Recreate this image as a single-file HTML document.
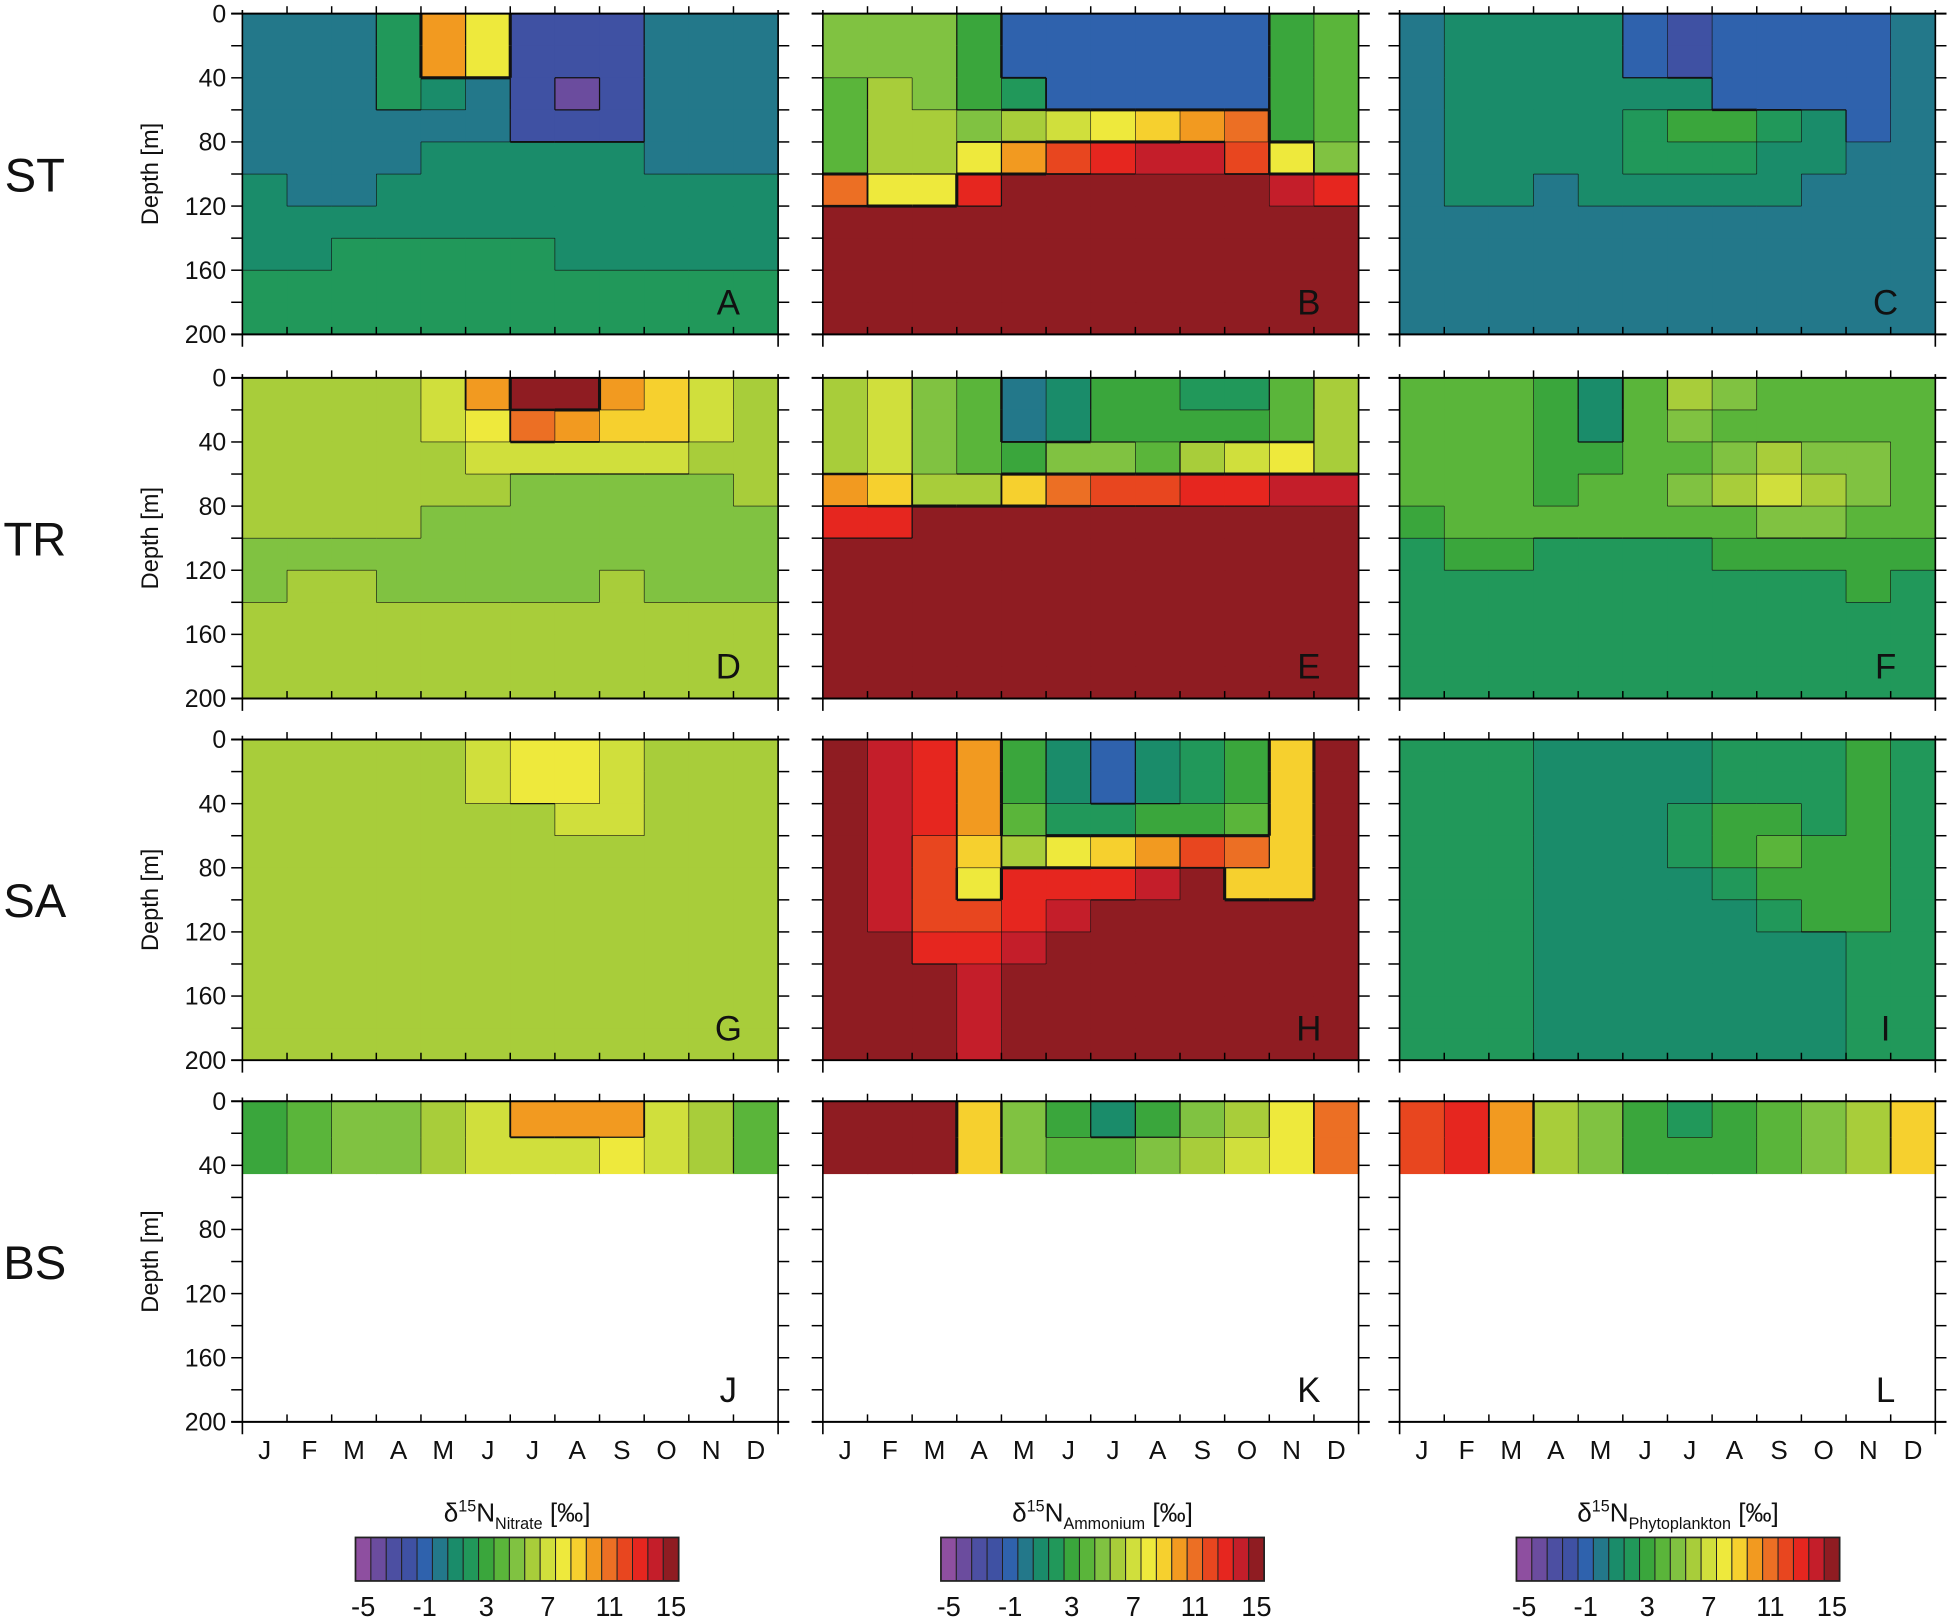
<!DOCTYPE html>
<html><head><meta charset="utf-8"><style>
html,body{margin:0;padding:0;background:#fff;}
svg{display:block;font-family:"Liberation Sans",Arial,sans-serif;}
</style></head><body>
<svg id="fig" xmlns="http://www.w3.org/2000/svg" width="1949" height="1617" viewBox="0 0 1568 1301" preserveAspectRatio="none"></svg>
<script>
// ---- data ----
const months = ["J","F","M","A","M","J","J","A","S","O","N","D"];
const depthTicks = [0,40,80,120,160,200];
const regionLabels = ["ST","TR","SA","BS"];
const panelLetters = ["A","B","C","D","E","F","G","H","I","J","K","L"];
const cbarTicks = [-5,-1,3,7,11,15];
const cbarTitles = ["Nitrate","Ammonium","Phytoplankton"];
const palette = ["#8e4fa0","#6b4c9e","#4c4fa2","#3f51a3","#2f62ad","#23788a","#1a8c6a","#21985a","#3aa63c","#5ab53a","#80c241","#a8cd3a","#d0df3c","#eee93c","#f6d02e","#f29a20","#ec6f24","#e8461f","#e6261f","#c41e2a","#8f1c22"];
const maxDepths = [200,200,200,200,200,200,200,200,200,45,45,45];
// grids: rows from surface to bottom, 12 monthly values each (per mil)
const gridA = [
[0,0,0,2,10,8,-2,-2,-2,0,0,0],[0,0,0,2,10,8,-2,-2,-2,0,0,0],[0,0,0,2,1,0,-2,-4,-2,0,0,0],
[0,0,0,0,0,0,-2,-2,-2,0,0,0],[0,0,0,0,1,1,1,1,1,0,0,0],[1,0,0,1,1,1,1,1,1,1,1,1],
[1,1,1,1,1,1,1,1,1,1,1,1],[1,1,2,2,2,2,2,1,1,1,1,1],[2,2,2,2,2,2,2,2,2,2,2,2],[2,2,2,2,2,2,2,2,2,2,2,2]];
const gridB = [
[5,5,5,3,-1,-1,-1,-1,-1,-1,3,4],[5,5,5,3,-1,-1,-1,-1,-1,-1,3,4],[4,6,5,3,2,-1,-1,-1,-1,-1,3,4],
[4,6,6,5,6,7,8,9,10,11,3,4],[4,6,6,8,10,12,13,14,14,12,8,5],[11,8,8,13,15,15,15,15,15,15,14,13],
[15,15,15,15,15,15,15,15,15,15,15,15],[15,15,15,15,15,15,15,15,15,15,15,15],[15,15,15,15,15,15,15,15,15,15,15,15],[15,15,15,15,15,15,15,15,15,15,15,15]];
const gridC = [
[0,1,1,1,1,-1,-2,-1,-1,-1,-1,0],[0,1,1,1,1,-1,-2,-1,-1,-1,-1,0],[0,1,1,1,1,1,1,-1,-1,-1,-1,0],
[0,1,1,1,1,2,3,3,2,1,-1,0],[0,1,1,1,1,2,2,2,1,1,0,0],[0,1,1,0,1,1,1,1,1,0,0,0],
[0,0,0,0,0,0,0,0,0,0,0,0],[0,0,0,0,0,0,0,0,0,0,0,0],[0,0,0,0,0,0,0,0,0,0,0,0],[0,0,0,0,0,0,0,0,0,0,0,0]];
const gridD = [
[6,6,6,6,7,10,15,15,10,9,7,6],[6,6,6,6,7,8,11,10,9,9,7,6],[6,6,6,6,6,7,7,7,7,7,6,6],
[6,6,6,6,6,6,5,5,5,5,5,6],[6,6,6,6,5,5,5,5,5,5,5,5],[5,5,5,5,5,5,5,5,5,5,5,5],
[5,6,6,5,5,5,5,5,6,5,5,5],[6,6,6,6,6,6,6,6,6,6,6,6],[6,6,6,6,6,6,6,6,6,6,6,6],[6,6,6,6,6,6,6,6,6,6,6,6]];
const gridE = [
[6,7,5,4,0,1,3,3,2,2,4,6],[6,7,5,4,0,1,3,3,3,3,4,6],[6,7,5,4,3,5,5,4,6,7,8,6],
[10,9,6,6,9,11,12,12,13,13,14,14],[13,13,15,15,15,15,15,15,15,15,15,15],[15,15,15,15,15,15,15,15,15,15,15,15],
[15,15,15,15,15,15,15,15,15,15,15,15],[15,15,15,15,15,15,15,15,15,15,15,15],[15,15,15,15,15,15,15,15,15,15,15,15],[15,15,15,15,15,15,15,15,15,15,15,15]];
const gridF = [
[4,4,4,3,1,4,6,5,4,4,4,4],[4,4,4,3,1,4,5,4,4,4,4,4],[4,4,4,3,3,4,4,5,6,5,5,4],
[4,4,4,3,4,4,5,6,7,6,5,4],[3,4,4,4,4,4,4,4,5,5,4,4],[2,3,3,2,2,2,2,3,3,3,3,3],
[2,2,2,2,2,2,2,2,2,2,3,2],[2,2,2,2,2,2,2,2,2,2,2,2],[2,2,2,2,2,2,2,2,2,2,2,2],[2,2,2,2,2,2,2,2,2,2,2,2]];
const gridG = [
[6,6,6,6,6,7,8,8,7,6,6,6],[6,6,6,6,6,7,8,8,7,6,6,6],[6,6,6,6,6,6,6,7,7,6,6,6],
[6,6,6,6,6,6,6,6,6,6,6,6],[6,6,6,6,6,6,6,6,6,6,6,6],[6,6,6,6,6,6,6,6,6,6,6,6],
[6,6,6,6,6,6,6,6,6,6,6,6],[6,6,6,6,6,6,6,6,6,6,6,6],[6,6,6,6,6,6,6,6,6,6,6,6],[6,6,6,6,6,6,6,6,6,6,6,6]];
const gridH = [
[15,14,13,10,3,1,-1,1,2,3,9,15],[15,14,13,10,3,1,-1,1,2,3,9,15],[15,14,13,10,4,2,2,3,3,4,9,15],
[15,14,12,9,6,8,9,10,12,11,9,15],[15,14,12,8,13,13,13,14,15,9,9,15],[15,14,12,12,13,14,15,15,15,15,15,15],
[15,15,13,13,14,15,15,15,15,15,15,15],[15,15,15,14,15,15,15,15,15,15,15,15],[15,15,15,14,15,15,15,15,15,15,15,15],[15,15,15,14,15,15,15,15,15,15,15,15]];
const gridI = [
[2,2,2,1,1,1,1,2,2,2,3,2],[2,2,2,1,1,1,1,2,2,2,3,2],[2,2,2,1,1,1,2,3,3,2,3,2],
[2,2,2,1,1,1,2,3,4,3,3,2],[2,2,2,1,1,1,1,2,3,3,3,2],[2,2,2,1,1,1,1,1,2,3,3,2],
[2,2,2,1,1,1,1,1,1,1,2,2],[2,2,2,1,1,1,1,1,1,1,2,2],[2,2,2,1,1,1,1,1,1,1,2,2],[2,2,2,1,1,1,1,1,1,1,2,2]];
const gridJ = [[3,4,5,5,6,7,10,10,10,7,6,4],[3,4,5,5,6,7,7,7,8,7,6,4]];
const gridK = [[15,15,15,9,5,3,1,3,5,6,8,11],[15,15,15,9,5,4,4,5,6,7,8,11]];
const gridL = [[12,13,10,6,5,3,2,3,4,5,6,9],[12,13,10,6,5,3,3,3,4,5,6,9]];
const grids = [gridA,gridB,gridC,gridD,gridE,gridF,gridG,gridH,gridI,gridJ,gridK,gridL];

// ---- layout ----
const NS = "http://www.w3.org/2000/svg";
const svg = document.getElementById("fig");
const colX = [195,662,1126], PW = 431;
const rowY = [11,304,595,886], PH = 258;
function mk(tag, attrs, parent){const e=document.createElementNS(NS,tag);for(const k in attrs)e.setAttribute(k,attrs[k]);(parent||svg).appendChild(e);return e;}
function colorOf(v){const i=Math.max(0,Math.min(20,Math.round(v)+5));return palette[i];}

grids.forEach((g,p)=>{
  const c=p%3, r=Math.floor(p/3), x0=colX[c], y0=rowY[r];
  const xs=m=>x0+m*PW/12;
  const ys=d=>y0+d/200*PH;
  const grp=mk("g",{});
  
  
  const nr=g.length, dz=maxDepths[p]/nr;
  g.forEach((row,ri)=>row.forEach((v,mi)=>{
    const cell=mk("rect",{x:xs(mi).toFixed(2),y:ys(ri*dz).toFixed(2),width:(PW/12+0.6).toFixed(2),height:(ys((ri+1)*dz)-ys(ri*dz)+0.6).toFixed(2),fill:colorOf(v)},grp);
    
    
  }));
  // contour-like isolines along value changes
  const cg=mk("g",{stroke:"#111",fill:"none"},grp);
  
  
  g.forEach((row,ri)=>row.forEach((v,mi)=>{
    if(mi<11 && row[mi+1]!==v){
      const w=Math.min(Math.abs(row[mi+1]-v)*0.5,2.5);
      mk("line",{x1:xs(mi+1),y1:ys(ri*dz),x2:xs(mi+1),y2:ys((ri+1)*dz),"stroke-width":w},cg);
    }
    if(ri<nr-1 && g[ri+1][mi]!==v){
      const w=Math.min(Math.abs(g[ri+1][mi]-v)*0.5,2.5);
      mk("line",{x1:xs(mi),y1:ys((ri+1)*dz),x2:xs(mi+1),y2:ys((ri+1)*dz),"stroke-width":w},cg);
    }
  }));
  // frame
  mk("line",{x1:x0,y1:y0-3,x2:x0,y2:y0+PH+10,stroke:"#000","stroke-width":1.3},grp);
  mk("line",{x1:x0+PW,y1:y0-3,x2:x0+PW,y2:y0+PH+10,stroke:"#000","stroke-width":1.3},grp);
  mk("line",{x1:x0-9,y1:y0,x2:x0+PW+9,y2:y0,stroke:"#000","stroke-width":1.6},grp);
  mk("line",{x1:x0-9,y1:y0+PH,x2:x0+PW+9,y2:y0+PH,stroke:"#000","stroke-width":1.6},grp);
  for(let d=0;d<=200;d+=20){
    mk("line",{x1:x0-9,y1:ys(d),x2:x0,y2:ys(d),stroke:"#000","stroke-width":1.2},grp);
    mk("line",{x1:x0+PW,y1:ys(d),x2:x0+PW+9,y2:ys(d),stroke:"#000","stroke-width":1.2},grp);
  }
  for(let m=1;m<12;m++){
    mk("line",{x1:xs(m),y1:y0,x2:xs(m),y2:y0-6,stroke:"#000","stroke-width":1.2},grp);
    mk("line",{x1:xs(m),y1:y0+PH,x2:xs(m),y2:y0+PH-6,stroke:"#000","stroke-width":1.2},grp);
  }
  const lt=mk("text",{x:x0+PW-40,y:y0+PH-16,"font-size":28,"text-anchor":"middle",fill:"#111"},grp);
  lt.textContent=panelLetters[p];
  
  
  if(c===0){
    depthTicks.forEach(d=>{
      const t=mk("text",{x:x0-13,y:ys(d)+7,"font-size":20,"text-anchor":"end",fill:"#111"});
      t.textContent=d;
      
      
    });
    const yt=mk("text",{x:0,y:0,"font-size":19,"text-anchor":"middle",fill:"#111",transform:`translate(127,${y0+PH/2}) rotate(-90)`});
    yt.textContent="Depth [m]";
    
    
    const rl=mk("text",{x:28,y:y0+PH/2+14,"font-size":38,"text-anchor":"middle",fill:"#111"});
    rl.textContent=regionLabels[r];
    
    
  }
});
// month labels
colX.forEach(x0=>{
  months.forEach((m,i)=>{
    const t=mk("text",{x:x0+(i+0.5)*PW/12,y:1174,"font-size":21,"text-anchor":"middle",fill:"#111"});
    t.textContent=m;
    
    
  });
});
// colorbars
const cbX=[286,757,1220], cbW=260, cbY=1237, cbH=35;
cbX.forEach((x0,k)=>{
  const g=mk("g",{});
  
  
  const cw=cbW/21;
  palette.forEach((col,i)=>{
    mk("rect",{x:x0+i*cw,y:cbY,width:cw,height:cbH,fill:col,stroke:"#222","stroke-width":0.8},g);
  });
  mk("rect",{x:x0,y:cbY,width:cbW,height:cbH,fill:"none",stroke:"#222","stroke-width":1.4},g);
  cbarTicks.forEach(v=>{
    const t=mk("text",{x:x0+(v+5+0.5)*cw,y:1300,"font-size":22,"text-anchor":"middle",fill:"#111"},g);
    t.textContent=v;
    
    
  });
  const tt=mk("text",{x:x0+cbW/2,y:1224,"font-size":21,"text-anchor":"middle",fill:"#111"},g);
  tt.innerHTML='δ<tspan dy="-8" font-size="13">15</tspan><tspan dy="8">N</tspan><tspan dy="6" font-size="13">'+cbarTitles[k]+'</tspan><tspan dy="-6"> [‰]</tspan>';
  
  
});
</script>
</body></html>
